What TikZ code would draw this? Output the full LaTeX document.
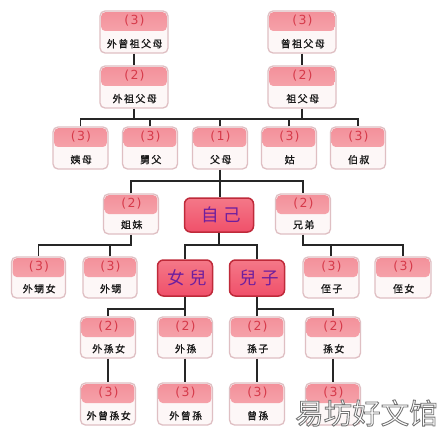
\documentclass[tikz,border=0pt]{standalone}
\usepackage{fontspec}
\newfontfamily\cjk[LetterSpace=14,FakeBold=0.8]{Noto Sans CJK TC}
\newfontfamily\cjkbig[LetterSpace=24]{Noto Sans CJK TC}
\newfontfamily\wmfont[FakeBold=3]{Noto Sans CJK SC}
\newfontfamily\numfont[LetterSpace=10]{DejaVu Sans}
\definecolor{boxline}{HTML}{DFBFC3}
\definecolor{boxbody}{HTML}{FDF7F7}
\definecolor{headtop}{HTML}{F3909A}
\definecolor{headbot}{HTML}{F8B5BA}
\definecolor{numred}{HTML}{D63A4A}
\definecolor{redfill}{HTML}{F0506A}
\definecolor{redtop}{HTML}{F47888}
\definecolor{redline}{HTML}{BF2A3A}
\definecolor{kinpurple}{HTML}{6E1E9E}
\tikzset{
  kinbox/.style={draw=boxline, line width=1.3pt, rounded corners=5pt, fill=boxbody,
    minimum height=42pt, inner sep=0pt,
    path picture={\fill[top color=headtop, bottom color=headbot, rounded corners=4pt]
      ([xshift=1.2pt,yshift=-1.2pt]path picture bounding box.north west) rectangle
      ([xshift=-1.2pt,yshift=-20pt]path picture bounding box.north east);}},
  numtxt/.style={text=numred, font=\numfont\fontsize{12.5}{13}\selectfont, inner sep=0pt},
  lbltxt/.style={text=black!90, font=\cjk\fontsize{10}{10}\selectfont, inner sep=0pt},
  selfbox/.style={draw=redline, line width=1.5pt, rounded corners=6pt,
    top color=redtop, bottom color=redfill, inner sep=0pt,
    text=kinpurple, font=\cjkbig\fontsize{17.5}{18}\selectfont},
  conn/.style={draw=black!85, line width=1.1pt}
}
\newcommand\kin[7]{%
  \node[kinbox, minimum width=#6pt, minimum height=#7pt] (#1) at (#2,#3) {};
  \node[numtxt] at ([yshift=-10.5pt]#1.north) {\kern1pt(#4)};
  \node[lbltxt] at ([yshift=10pt]#1.south) {\kern1.4pt#5};}
\begin{document}
\begin{tikzpicture}[x=1pt,y=-1pt]
\useasboundingbox[fill=white] (0,0) rectangle (440,446);
% row 1-2
\kin{wzzfm}{134}{32}{3}{外曾祖父母}{68}{42}
\kin{zzfm}{302}{32}{3}{曾祖父母}{68}{42}
\kin{wzfm}{134}{87}{2}{外祖父母}{68}{42}
\kin{zfm}{302}{87}{2}{祖父母}{68}{42}
% row 3
\kin{yimu}{80.5}{148}{3}{姨母}{55}{42}
\kin{jiufu}{150}{148}{3}{舅父}{55}{42}
\kin{fumu}{220}{148}{1}{父母}{55}{42}
\kin{gu}{289}{148}{3}{姑}{55}{42}
\kin{bosu}{358}{148}{3}{伯叔}{55}{42}
% row 4
\kin{jiemei}{131}{214}{2}{姐妹}{55}{40}
\kin{xiongdi}{303}{214}{2}{兄弟}{55}{40}
\node[selfbox, minimum width=69pt, minimum height=34pt] (self) at (219,215) {\kern4.2pt自己};
\kin{waishengnv}{38.5}{277.5}{3}{外甥女}{54}{41}
\kin{waisheng}{110}{277.5}{3}{外甥}{54}{41}
\kin{zhizi}{331}{277.5}{3}{侄子}{56}{41}
\kin{zhinv}{403}{277.5}{3}{侄女}{56}{41}
\node[selfbox, minimum width=55pt, minimum height=36pt] (nver) at (185,278) {\kern4.2pt女兒};
\node[selfbox, minimum width=55pt, minimum height=36pt] (erzi) at (257,278) {\kern4.2pt兒子};
% row 5
\kin{waisunnv}{108}{337.5}{2}{外孫女}{55}{41}
\kin{waisun}{185}{337.5}{2}{外孫}{55}{41}
\kin{sunzi}{257}{337.5}{2}{孫子}{55}{41}
\kin{sunnv}{333}{337.5}{2}{孫女}{55}{41}
% row 6
\kin{wzsunnv}{108}{404}{3}{外曾孫女}{55}{42}
\kin{wzsun}{185}{404}{3}{外曾孫}{55}{42}
\kin{zsun}{257}{404}{3}{曾孫}{55}{42}
\node[kinbox, minimum width=55pt, minimum height=42pt] (zsunnv) at (333,404) {};
\node[numtxt] at ([yshift=-10.5pt]zsunnv.north) {\kern1pt(3)};
% connectors
\draw[conn] (wzzfm) -- (wzfm);
\draw[conn] (zzfm) -- (zfm);
\coordinate (b1) at (220,119);
\draw[conn] (yimu.north) |- (b1) -| (bosu.north);
\draw[conn] (wzfm.south) -- (wzfm.south |- b1);
\draw[conn] (zfm.south) -- (zfm.south |- b1);
\draw[conn] (jiufu.north) -- (jiufu.north |- b1);
\draw[conn] (fumu.north) -- (fumu.north |- b1);
\draw[conn] (gu.north) -- (gu.north |- b1);
\coordinate (b2) at (220,181);
\draw[conn] (jiemei.north) |- (b2) -| (xiongdi.north);
\draw[conn] (fumu.south) -- (fumu.south |- self.north);
\coordinate (b3) at (131,245);
\draw[conn] (jiemei.south) -- (b3) -| (waishengnv.north);
\draw[conn] (waisheng.north) -- (waisheng.north |- b3);
\coordinate (b4) at (303,245);
\draw[conn] (xiongdi.south) -- (b4) -| (zhinv.north);
\draw[conn] (zhizi.north) -- (zhizi.north |- b4);
\coordinate (b5) at (219,245);
\draw[conn] (self.south) -- (b5);
\draw[conn] (nver.north) |- (b5) -| (erzi.north);
\coordinate (b6) at (185,309);
\draw[conn] (nver.south) -- (b6) -| (waisunnv.north);
\draw[conn] (waisun.north) -- (waisun.north |- b6);
\coordinate (b7) at (257,309);
\draw[conn] (erzi.south) -- (b7) -| (sunnv.north);
\draw[conn] (sunzi.north) -- (sunzi.north |- b7);
\draw[conn] (waisunnv) -- (wzsunnv);
\draw[conn] (waisun) -- (wzsun);
\draw[conn] (sunzi) -- (zsun);
\draw[conn] (sunnv) -- (zsunnv);
% watermark: white letters with a grey outline
\node[anchor=west, inner sep=0pt] (wm) at (295,413) {\special{color push gray 1}\special{pdf:code 0.45 G}\wmfont\fontsize{28.5}{29}\selectfont 易坊好文馆\special{color pop}};
\end{tikzpicture}
\end{document}
